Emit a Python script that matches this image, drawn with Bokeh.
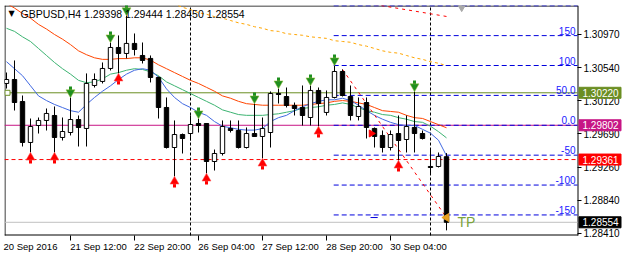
import math
from bokeh.plotting import figure
from bokeh.models import (Range1d, LinearAxis, FixedTicker, Label,
                          ColumnDataSource, NumeralTickFormatter)
from bokeh.core.properties import value
from bokeh.embed import file_html
from bokeh.resources import INLINE

FONT = "Liberation Sans"

# ---------------- data ----------------
symbol = "GBPUSD,H4"
bars = list(range(56))
opens = [1.30340, 1.30391, 1.30108, 1.29581, 1.29799, 1.29864, 1.29928, 1.29645, 1.29709, 1.29876,
         1.29761, 1.30314, 1.30366, 1.30533, 1.30803, 1.30726, 1.30855, 1.30700, 1.30662, 1.30417,
         1.30031, 1.29516, 1.29683, 1.29696, 1.29825, 1.29825, 1.29336, 1.29439, 1.29761, 1.29735,
         1.29516, 1.29696, 1.29658, 1.29709, 1.30211, 1.30172, 1.30057, 1.30031, 1.29902, 1.30250,
         1.29967, 1.30160, 1.30494, 1.30172, 1.29915, 1.30095, 1.29761, 1.29671, 1.29516, 1.29696,
         1.29619, 1.29774, 1.29696, 1.29272, 1.29272, 1.29398]
highs = [1.30481, 1.30636, 1.30185, 1.29889, 1.29902, 1.30018, 1.30044, 1.29902, 1.30160, 1.29928,
         1.30469, 1.30469, 1.30610, 1.30867, 1.30958, 1.31215, 1.30983, 1.30867, 1.30700, 1.30430,
         1.30160, 1.29864, 1.29696, 1.29928, 1.29889, 1.29825, 1.29490, 1.29864, 1.29864, 1.29864,
         1.29774, 1.30082, 1.29902, 1.30237, 1.30275, 1.30288, 1.30095, 1.30314, 1.30314, 1.30288,
         1.30250, 1.30571, 1.30520, 1.30314, 1.30160, 1.30160, 1.29774, 1.29735, 1.29735, 1.29928,
         1.29928, 1.30237, 1.29735, 1.29503, 1.29452, 1.29444]
lows = [1.30275, 1.29992, 1.29529, 1.29452, 1.29696, 1.29735, 1.29452, 1.29606, 1.29671, 1.29529,
        1.29529, 1.30288, 1.30340, 1.30507, 1.30469, 1.30662, 1.30700, 1.30597, 1.30353, 1.29889,
        1.29503, 1.29143, 1.29439, 1.29606, 1.29709, 1.29182, 1.29220, 1.29413, 1.29709, 1.29503,
        1.29503, 1.29658, 1.29375, 1.29516, 1.30082, 1.30031, 1.29928, 1.29799, 1.29799, 1.29786,
        1.29928, 1.30147, 1.30172, 1.29864, 1.29864, 1.29632, 1.29516, 1.29452, 1.29478, 1.29349,
        1.29452, 1.29452, 1.29619, 1.29182, 1.29259, 1.28450]
closes = [1.30391, 1.30095, 1.29581, 1.29786, 1.29864, 1.29954, 1.29645, 1.29722, 1.29876, 1.29774,
          1.30340, 1.30391, 1.30533, 1.30803, 1.30726, 1.30855, 1.30777, 1.30636, 1.30417, 1.30031,
          1.29516, 1.29683, 1.29632, 1.29812, 1.29799, 1.29336, 1.29439, 1.29786, 1.29735, 1.29516,
          1.29696, 1.29658, 1.29761, 1.30211, 1.30198, 1.30057, 1.30018, 1.29928, 1.30250, 1.30082,
          1.30160, 1.30494, 1.30185, 1.29928, 1.30044, 1.29774, 1.29658, 1.29516, 1.29683, 1.29606,
          1.29786, 1.29696, 1.29632, 1.29259, 1.29400, 1.28554]

ma_blue = [1.3062, 1.3053, 1.3044, 1.3031, 1.3018, 1.3012, 1.3007, 1.3003, 1.2999, 1.2997,
           1.3007, 1.3016, 1.3024, 1.3031, 1.3039, 1.3046, 1.3051, 1.3053, 1.3051, 1.3042,
           1.3027, 1.3016, 1.3008, 1.3003, 1.2997, 1.2993, 1.2985, 1.2979, 1.2977, 1.2975,
           1.2974, 1.2974, 1.2976, 1.2985, 1.2990, 1.2993, 1.2999, 1.3004, 1.3008, 1.3011,
           1.3013, 1.3013, 1.3015, 1.3012, 1.3006, 1.2999, 1.2993, 1.2988, 1.2984, 1.2981,
           1.2980, 1.2980, 1.2975, 1.2970, 1.2961, 1.2941]
ma_green = [1.3105, 1.3101, 1.3094, 1.3088, 1.3079, 1.3070, 1.3061, 1.3053, 1.3046, 1.3038,
            1.3035, 1.3036, 1.3040, 1.3046, 1.3048, 1.3051, 1.3053, 1.3052, 1.3049, 1.3044,
            1.3036, 1.3031, 1.3026, 1.3021, 1.3016, 1.3011, 1.3006, 1.3000, 1.2997, 1.2994,
            1.2993, 1.2993, 1.2993, 1.2994, 1.2995, 1.2997, 1.2999, 1.3002, 1.3003, 1.3004,
            1.3006, 1.3007, 1.3009, 1.3007, 1.3003, 1.2999, 1.2997, 1.2994, 1.2993, 1.2990,
            1.2988, 1.2985, 1.2984, 1.2979, 1.2972, 1.2964]
ma_red = [1.3137, 1.3131, 1.3124, 1.3118, 1.3110, 1.3104, 1.3097, 1.3091, 1.3084, 1.3076,
          1.3071, 1.3067, 1.3065, 1.3065, 1.3066, 1.3066, 1.3067, 1.3067, 1.3064, 1.3058,
          1.3053, 1.3048, 1.3043, 1.3038, 1.3034, 1.3029, 1.3024, 1.3018, 1.3015, 1.3011,
          1.3008, 1.3007, 1.3006, 1.3006, 1.3006, 1.3006, 1.3006, 1.3006, 1.3007, 1.3008,
          1.3009, 1.3011, 1.3012, 1.3011, 1.3009, 1.3007, 1.3003, 1.2999, 1.2998, 1.2997,
          1.2993, 1.2990, 1.2989, 1.2985, 1.2981, 1.2977]
orange_bars = list(range(20, 56))
ma_orange = [1.3138, 1.3136, 1.3132, 1.3129, 1.3125, 1.3123, 1.3120, 1.3118, 1.3115, 1.3112,
             1.3110, 1.3107, 1.3105, 1.3102, 1.3101, 1.3098, 1.3097, 1.3096, 1.3094, 1.3093,
             1.3092, 1.3089, 1.3088, 1.3087, 1.3084, 1.3082, 1.3079, 1.3076, 1.3074, 1.3073,
             1.3070, 1.3067, 1.3065, 1.3062, 1.3060, 1.3057]

down_arrow_bars = [8, 13, 15, 24, 31, 34, 38, 41, 51]
up_arrow_bars = [3, 6, 14, 21, 25, 32, 39, 49]

time_tick_bars = [8, 16, 24, 32, 40, 48]
time_tick_labels = ["21 Sep 12:00", "22 Sep 20:00", "26 Sep 04:00",
                    "27 Sep 12:00", "28 Sep 20:00", "30 Sep 04:00"]
first_label = "20 Sep 2016"
separator_bars = [23, 53]

price_ticks = [1.30970, 1.30540, 1.30120, 1.29690, 1.29260, 1.28840, 1.28410]
level_olive = 1.30220
level_magenta = 1.29802
level_red = 1.29361

fib_start_bar = 41
fib_0 = 1.29802
fib_100 = 1.30571
fib_levels = [200, 150, 100, 50, 0, -50, -100, -150]
fib_texts = ["", "150", "100", "50.0", "0.0", "-50", "-100", "-150"]

trend_bars = [42, 55]
trend_prices = [1.30520, 1.28615]
trend2_bars = [46, 55]
trend2_prices = [1.31357, 1.31202]

# ---------------- geometry ----------------
BAR_PX = 8.0
x0 = -0.25                       # left chart border
x_edge = x0 + 573 / BAR_PX       # chart border / price scale line
x_end = x0 + 618 / BAR_PX        # right end of canvas
y_border, y1 = 1.28384, 1.31343  # bottom / top chart border prices
CHART_H = 230
ppx = (y1 - y_border) / CHART_H
EXTRA_PX = 5                      # frame extends below the chart border
y0 = y_border - EXTRA_PX * ppx
FRAME_H = CHART_H + EXTRA_PX
hx = 0.5 / BAR_PX
hy = 0.5 * ppx

p = figure(width=622, height=258, x_range=Range1d(x0, x_end), y_range=Range1d(y0, y1),
           output_backend="svg", toolbar_location=None,
           x_axis_location=None, y_axis_location=None,
           min_border_left=4, min_border_top=5, min_border_right=0,
           min_border_bottom=258 - 5 - FRAME_H)
p.grid.visible = False
p.outline_line_color = None
p.background_fill_color = "white"
p.border_fill_color = "white"

# right price axis, drawn at the chart border
ya = LinearAxis(ticker=FixedTicker(ticks=price_ticks, minor_ticks=[]),
                formatter=NumeralTickFormatter(format="0.00000"), fixed_location=x_edge)
ya.axis_line_color = None
ya.major_tick_out = 4
ya.major_tick_in = 0
ya.minor_tick_out = 0
ya.major_tick_line_color = "black"
ya.major_label_standoff = 2
ya.major_label_text_font = FONT
ya.major_label_text_font_size = "10px"
ya.major_label_text_color = "black"
p.add_layout(ya, "right")

# bottom time axis: labels start at the tick mark (left aligned)
label_shift = 3.5
first_center = 3.0
centers = [first_center] + [b + label_shift for b in time_tick_bars]
overrides = {first_center: first_label}
for b, t in zip(time_tick_bars, time_tick_labels):
    overrides[b + label_shift] = t
xa = LinearAxis(ticker=FixedTicker(ticks=centers, minor_ticks=time_tick_bars),
                major_label_overrides=overrides)
xa.axis_line_color = None
xa.major_tick_line_color = None
xa.major_tick_out = 0
xa.major_tick_in = 0
xa.minor_tick_out = 0
xa.minor_tick_in = EXTRA_PX
xa.minor_tick_line_color = "black"
xa.major_label_standoff = 0
xa.major_label_text_font = FONT
xa.major_label_text_font_size = "9.5px"
xa.major_label_text_color = "black"
p.add_layout(xa, "below")

# chart border (left, top, bottom, right)
p.line([x0 + hx, x0 + hx], [y_border, y1], line_color="black", line_width=1)
p.line([x0, x_edge + hx], [y1 - hy, y1 - hy], line_color="black", line_width=1)
p.line([x0, x_edge + hx], [y_border + hy, y_border + hy], line_color="black", line_width=1)
p.line([x_edge + hx, x_edge + hx], [y_border, y1], line_color="black", line_width=1)

# horizontal levels
p.line([x0, x_edge], [level_olive] * 2, line_color="#6b8e23", line_width=1)
p.line([x0, x_edge], [level_magenta] * 2, line_color="#c71585", line_width=1)
p.line([x0, x_edge], [level_red] * 2, line_color="#ff0000", line_width=1, line_dash="4 3")
p.line([x0, x_edge], [closes[-1]] * 2, line_color="#c0c0c0", line_width=1)
p.scatter([x0 + 0.375], [level_olive], marker="square", size=5, fill_color="white",
          line_color="#6b8e23")

# period separators
for sb in separator_bars:
    p.line([sb, sb], [y_border, y1], line_color="black", line_width=1, line_dash="3 2")

# fibonacci-style levels
for lv, txt in zip(fib_levels, fib_texts):
    price = fib_0 + (fib_100 - fib_0) * lv / 100.0
    p.line([fib_start_bar - 0.1, x_edge], [price, price], line_color="#0000dd", line_width=1,
           line_dash="5 3")
    if txt:
        p.add_layout(Label(x=x_edge, y=price, text=txt, x_offset=-2, y_offset=1,
                           text_align="right", text_baseline="bottom", text_font=FONT,
                           text_font_size="10px", text_color="#2020ff"))

# moving averages
p.line(orange_bars, ma_orange, line_color="#ffa500", line_width=1, line_dash="3 3")
p.line(bars, ma_red, line_color="#ff4500", line_width=1)
p.line(bars, ma_green, line_color="#3cb371", line_width=1)
p.line(bars, ma_blue, line_color="#4169e1", line_width=1)

# trend lines
p.line(trend_bars, trend_prices, line_color="#ff0000", line_width=1, line_dash="3 4")
p.line(trend2_bars, trend2_prices, line_color="#ff0000", line_width=1, line_dash="3 4")

# candles
tops = [max(o, c) for o, c in zip(opens, closes)]
bots = [min(o, c) for o, c in zip(opens, closes)]
fills = ["white" if c >= o else "black" for o, c in zip(opens, closes)]
src = ColumnDataSource(dict(x=bars, h=highs, l=lows, t=tops, b=bots, f=fills))
p.segment(x0="x", y0="l", x1="x", y1="h", source=src, line_color="black", line_width=1)
p.vbar(x="x", width=0.55, top="t", bottom="b", fill_color="f", line_color="black",
       line_width=1, source=src)

# arrows above highs / below lows
dx = list(down_arrow_bars)
dh = [highs[b] for b in down_arrow_bars]
p.segment(x0=dx, x1=dx, y0=[h + 7 * ppx for h in dh], y1=[h + 11 * ppx for h in dh],
          line_color="#1f8f1f", line_width=3)
p.scatter(dx, [h + 5 * ppx for h in dh], marker="inverted_triangle", size=9,
          fill_color="#1f8f1f", line_color="#9fbf3f", line_width=0.5)
ux = list(up_arrow_bars)
ul = [lows[b] for b in up_arrow_bars]
p.segment(x0=ux, x1=ux, y0=[l - 7 * ppx for l in ul], y1=[l - 11 * ppx for l in ul],
          line_color="#ff0000", line_width=3)
p.scatter(ux, [l - 5 * ppx for l in ul], marker="triangle", size=9,
          fill_color="#ff0000", line_color="#ff6060", line_width=0.5)

# trend end marker, TP text, small objects
p.scatter([trend_bars[-1]], [trend_prices[-1]], marker="triangle", angle=math.pi / 2, size=8,
          fill_color="#e8a020", line_color="#e8a020")
p.line([45.5, 46.4], [trend_prices[-1], trend_prices[-1]], line_color="#0000dd", line_width=1)
p.scatter([45.6], [closes[46] + 3 * ppx], marker="triangle", angle=-math.pi / 2, size=7,
          fill_color="#ff0000", line_color="#ff0000")
p.add_layout(Label(x=bars[-1], y=closes[-1], text="TP", x_offset=11, text_baseline="middle",
                   text_font=FONT, text_font_size="14px", text_color="#7aa33a"))
p.scatter([56.9], [y1 - 1.5 * ppx], marker="inverted_triangle", size=8,
          fill_color="#a8a8a8", line_color="#a8a8a8")

# header
p.add_layout(Label(x=4, y=FRAME_H - 8, x_units="screen", y_units="screen", text="\u25bc",
                   text_baseline="middle", text_font="DejaVu Sans", text_font_size="8px",
                   text_color="black"))
header = f"{symbol}  {opens[-1]:.5f} {highs[-1]:.5f} {lows[-1]:.5f} {closes[-1]:.5f}"
p.add_layout(Label(x=16, y=FRAME_H - 8, x_units="screen", y_units="screen", text=header,
                   text_baseline="middle", text_font=FONT, text_font_size="10.5px",
                   text_color="black"))

# price boxes on the price scale
box_prices = [level_olive, level_magenta, level_red, closes[-1]]
box_colors = ["#6b8e23", "#c71585", "#ff0000", "#000000"]
box_src = ColumnDataSource(dict(y=box_prices, c=box_colors,
                                t=[f"{v:.5f}" for v in box_prices]))
box_cx = x_edge + (1.5 + 21) / BAR_PX
r1 = p.rect(x=box_cx, y="y", width=42 / BAR_PX, height=11 * ppx, fill_color="c",
            line_color="c", source=box_src)
r2 = p.text(x=x_edge + 5 / BAR_PX, y="y", text="t", text_color="white",
            text_font=value(FONT), text_font_size="10px", text_baseline="middle",
            source=box_src)
r1.level = "overlay"
r2.level = "overlay"

open("out.html", "w").write(file_html(p, INLINE))
